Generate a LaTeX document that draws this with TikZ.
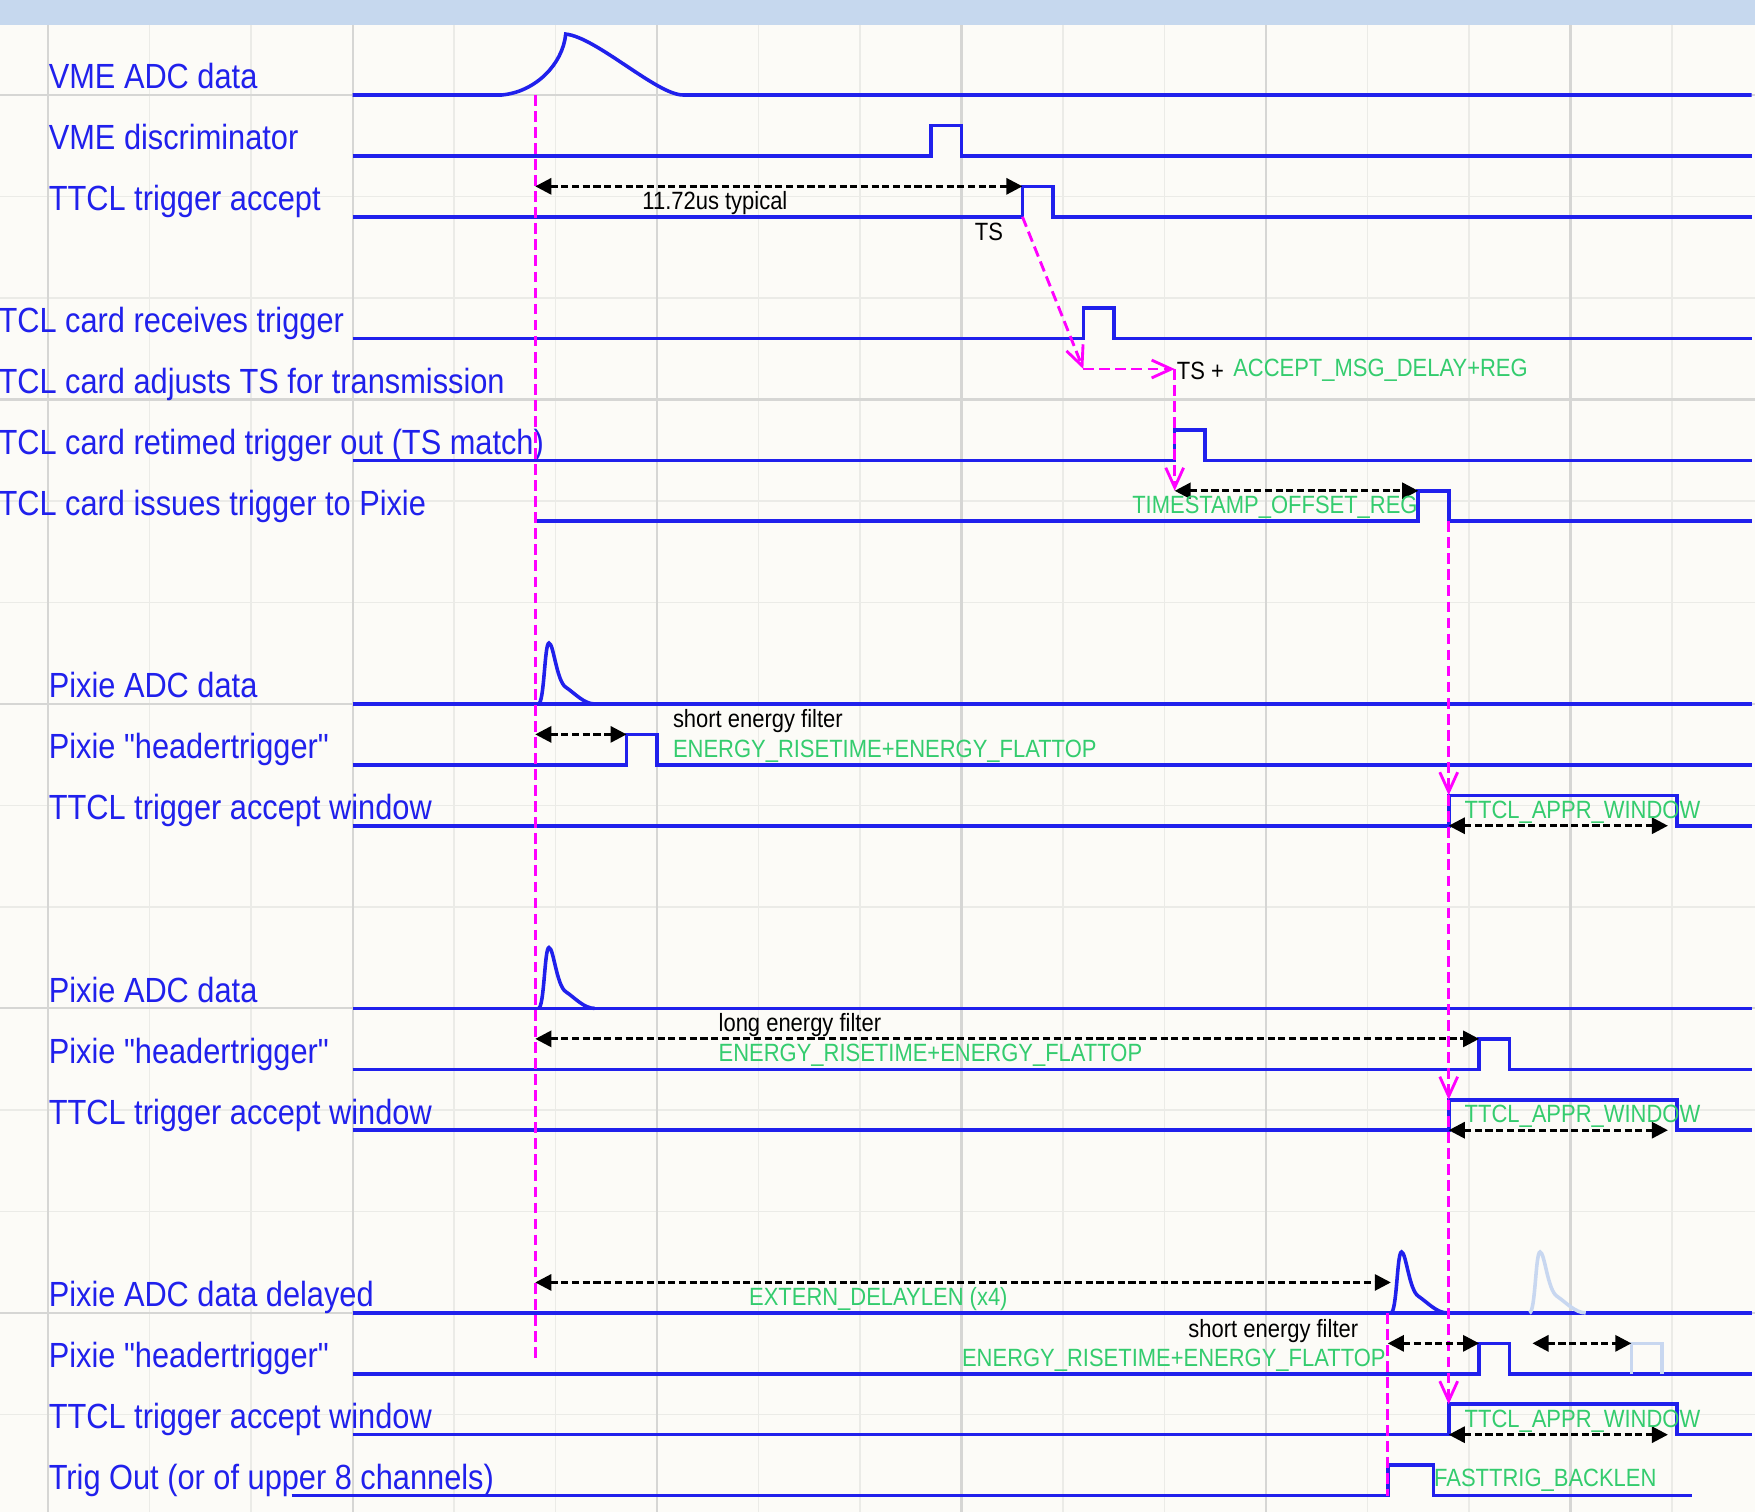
\documentclass[tikz,border=0pt]{standalone}
\usepackage{fontspec}
\setmainfont{Liberation Sans}[FakeStretch=0.88,Ligatures=TeXOff]
\usepackage{tikz}
\usetikzlibrary{arrows.meta}

\definecolor{sigblue}{RGB}{32,32,236}
\definecolor{regreen}{RGB}{52,204,110}
\definecolor{trigmag}{RGB}{255,0,255}
\definecolor{paper}{RGB}{252,251,247}
\definecolor{gridminor}{RGB}{235,235,231}
\definecolor{gridmajor}{RGB}{214,214,212}
\definecolor{ghostblue}{RGB}{200,215,240}
\definecolor{bandblue}{RGB}{198,216,238}

\begin{document}
\begin{tikzpicture}[
 x=0.3cm,y=0.3cm,
 sig/.style={
  draw=sigblue,
  line width=1pt,
  line join=miter
 },
 ghost/.style={draw=ghostblue,line width=1pt},
 lbl/.style={
  anchor=base west,
  inner sep=0pt,
  text=sigblue,
  font=\fontsize{9.8}{11}\selectfont
 },
 note/.style={inner sep=0pt,font=\fontsize{7}{8}\selectfont},
 reg/.style={note,text=regreen},
 span/.style={
  {Triangle[length=4.5pt,width=4.5pt]}-{Triangle[length=4.5pt,width=4.5pt]},
  dash pattern=on 2pt off 1pt,
  line width=0.8pt
 },
 marker/.style={draw=trigmag,dash pattern=on 3pt off 1.5pt,line width=0.8pt},
 cause/.style={marker,-{Straight Barb[length=5.5pt,width=5pt]}}
]
 \useasboundingbox (-1.58,-46.53) rectangle (56.06,3.12);
 \fill[paper] (-1.58,-46.53) rectangle (56.06,3.12);
 \draw[gridminor,line width=0.4pt] (-1.58,-46.53) grid (56.06,2.31);
 \draw[gridmajor,line width=0.6pt,step=10] (-1.58,-46.53) grid (56.06,2.31);
 \fill[bandblue] (-1.58,2.31) rectangle (56.06,3.12);

 \node[lbl] (vmeadc) at (0,0.2) {VME ADC data};
 \node[lbl] (vmedisc) at (0,-1.8) {VME discriminator};
 \node[lbl] (accept) at (0,-3.8) {TTCL trigger accept};
 \node[lbl] (receive) at (-1.65,-7.8) {TCL card receives trigger};
 \node[lbl] (adjust) at (-1.65,-9.8) {TCL card adjusts TS for transmission};
 \node[lbl] (retime) at (-1.65,-11.8) {TCL card retimed trigger out (TS match)};
 \node[lbl] (issue) at (-1.65,-13.8) {TCL card issues trigger to Pixie};
 \node[lbl] (adcA) at (0,-19.8) {Pixie ADC data};
 \node[lbl] (hdrA) at (0,-21.8) {Pixie "headertrigger"};
 \node[lbl] (winA) at (0,-23.8) {TTCL trigger accept window};
 \node[lbl] (adcB) at (0,-29.8) {Pixie ADC data};
 \node[lbl] (hdrB) at (0,-31.8) {Pixie "headertrigger"};
 \node[lbl] (winB) at (0,-33.8) {TTCL trigger accept window};
 \node[lbl] (adcC) at (0,-39.8) {Pixie ADC data delayed};
 \node[lbl] (hdrC) at (0,-41.8) {Pixie "headertrigger"};
 \node[lbl] (winC) at (0,-43.8) {TTCL trigger accept window};
 \node[lbl] (trigout) at (0,-45.8) {Trig Out (or of upper 8 channels)};

 \draw[sig] (10,0) -- (14.9,0) .. controls (16,0.1) and (16.9,1) .. (17,2)
  .. controls (18,1.9) and (20,0) .. (20.85,0) -- (55.95,0);
 \draw[sig] (10,-2) -- (29,-2) |- (30,-1) |- (55.95,-2);
 \draw[sig] (10,-4) -- (32,-4) |- (33,-3) |- (55.95,-4);
 \draw[sig] (10,-8) -- (34,-8) |- (35,-7) |- (55.95,-8);
 \draw[sig] (10,-12) -- (37,-12) |- (38,-11) |- (55.95,-12);
 \draw[sig] (16,-14) -- (45,-14) |- (46,-13) |- (55.95,-14);

 \foreach \yb in {-20,-30,-40}
  \draw[sig] (10,\yb) -- (55.95,\yb);
 \foreach \xs/\yb/\kind in {16.1/-20/sig,16.1/-30/sig,44.1/-40/sig,48.65/-40/ghost}
  \draw[\kind] (\xs,\yb) .. controls (\xs+0.2,\yb) and (\xs+0.2,\yb+2) .. (\xs+0.35,\yb+2)
   .. controls (\xs+0.5,\yb+2) and (\xs+0.6,\yb+0.75) .. (\xs+0.9,\yb+0.55)
   .. controls (\xs+1.2,\yb+0.35) and (\xs+1.5,\yb) .. (\xs+1.85,\yb);
 \draw[sig] (10,-22) -- (19,-22) |- (20,-21) |- (55.95,-22);
 \draw[sig] (10,-32) -- (47,-32) |- (48,-31) |- (55.95,-32);
 \draw[sig] (10,-42) -- (47,-42) |- (48,-41) |- (55.95,-42);
 \draw[ghost] (52,-42) |- (53,-41) -- (53,-42);
 \foreach \yb in {-24,-34,-44}
  \draw[sig] (10,\yb) -- (46,\yb) |- (53.5,\yb+1) |- (55.95,\yb);
 \draw[sig] (8,-46) -- (44,-46) |- (45.5,-45) |- (54,-46);

 \draw[marker] (16,0) -- (16,-41.5);
 \draw[marker] (44,-40) -- (44,-46);
 \draw[cause] (32,-4) -- (34,-9);
 \draw[cause] (34,-9) -- (37,-9);
 \draw[cause] (37,-9) -- (37,-13);
 \draw[cause] (46,-14) -- (46,-23);
 \draw[cause] (46,-23) -- (46,-33);
 \draw[cause] (46,-33) -- (46,-43);

 \draw[span] (16,-3) -- (32,-3);
 \draw[span] (37,-13) -- (45,-13);
 \draw[span] (16,-21) -- (19,-21);
 \draw[span] (16,-31) -- (47,-31);
 \draw[span] (16,-39) -- (44.1,-39);
 \draw[span] (44,-41) -- (47,-41);
 \draw[span] (48.75,-41) -- (52,-41);
 \foreach \yb in {-24,-34,-44}
  \draw[span] (46,\yb) -- (53.2,\yb);

 \node[note] (typical) at (21.9,-3.55) {11.72us typical};
 \node[note] (ts) at (30.9,-4.5) {TS};
 \node[note,anchor=west] (tsplus) at (37.05,-9.05) {TS +};
 \node[reg,anchor=west] (msgdelay) at (38.9,-9.05) {ACCEPT\_MSG\_DELAY+REG};
 \node[reg,anchor=east] (tsoffset) at (45,-13.55) {TIMESTAMP\_OFFSET\_REG};
 \node[note,anchor=west] (shortA) at (20.5,-20.55) {short energy filter};
 \node[reg,anchor=west] (riseA) at (20.5,-21.55) {ENERGY\_RISETIME+ENERGY\_FLATTOP};
 \node[note,anchor=west] (longB) at (22,-30.55) {long energy filter};
 \node[reg,anchor=west] (riseB) at (22,-31.55) {ENERGY\_RISETIME+ENERGY\_FLATTOP};
 \node[reg,anchor=west] (delaylen) at (23,-39.55) {EXTERN\_DELAYLEN (x4)};
 \node[note,anchor=east] (shortC) at (43.05,-40.6) {short energy filter};
 \node[reg,anchor=east] (riseC) at (43.95,-41.55) {ENERGY\_RISETIME+ENERGY\_FLATTOP};
 \foreach \yb/\nm in {-23.55/apprA,-33.55/apprB,-43.55/apprC}
  \node[reg,anchor=west] (\nm) at (46.5,\yb) {TTCL\_APPR\_WINDOW};
 \node[reg,anchor=west] (backlen) at (45.5,-45.5) {FASTTRIG\_BACKLEN};
\end{tikzpicture}
\end{document}
